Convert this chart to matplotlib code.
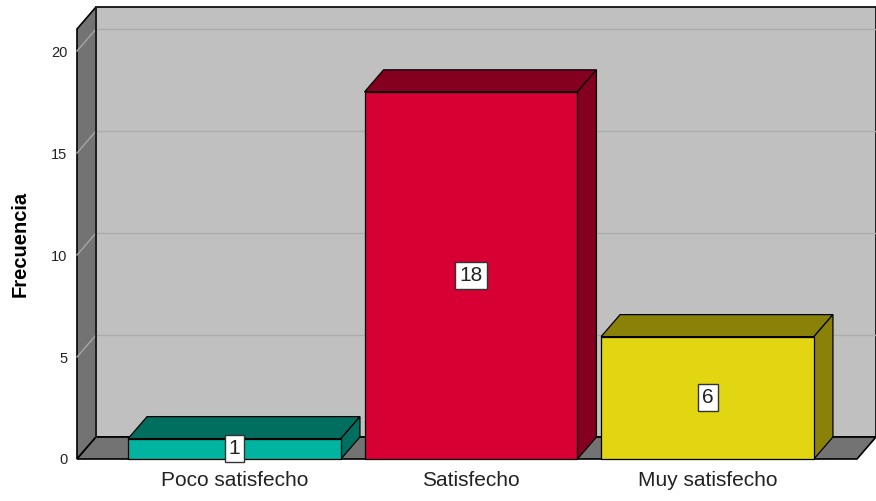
"""
Frecuencia de satisfacción: barras 3D al estilo SPSS
"""
import matplotlib
matplotlib.use("Agg")
import matplotlib.pyplot as plt
from matplotlib.patches import Polygon, Rectangle

categorias = ["Poco satisfecho", "Satisfecho", "Muy satisfecho"]
frecuencias = [1, 18, 6]
yticks = [0, 5, 10, 15, 20]

caras = ["#00b4a0", "#d60032", "#e2d512"]
sombras = ["#006f60", "#850020", "#8a8208"]

plt.rcParams["font.family"] = ["Liberation Sans", "DejaVu Sans"]

fig = plt.figure(figsize=(8.76, 5.01), dpi=100)
ax = fig.add_axes([77 / 876, 42 / 501, 780 / 876, 430 / 501])
x0, x1 = -0.666, 2.632
ytop = 21.08
ax.set_xlim(x0, x1)
ax.set_ylim(0, ytop)

# profundidad del efecto 3D, en unidades de datos
dx, dy = 0.0803, 1.078
ancho = 0.90


def poly(pts, fc, ec="black", lw=0.9, z=1):
    ax.add_patch(Polygon(pts, closed=True, fc=fc, ec=ec, lw=lw,
                         zorder=z, clip_on=False))


# pared del fondo con su rejilla
poly([(x0 + dx, dy), (x1 + dx, dy), (x1 + dx, ytop + dy), (x0 + dx, ytop + dy)],
     "#c0c0c0", lw=1.2, z=1)
for v in yticks[1:]:
    ax.plot([x0 + dx, x1 + dx], [v + dy, v + dy], color="#acacac", lw=1,
            zorder=2, clip_on=False)

# pared izquierda
poly([(x0, 0), (x0 + dx, dy), (x0 + dx, ytop + dy), (x0, ytop)],
     "#737373", lw=1.2, z=3)
for v in yticks[1:]:
    ax.plot([x0, x0 + dx], [v, v + dy], color="#a6a6a6", lw=1,
            zorder=4, clip_on=False)

# suelo
poly([(x0, 0), (x1, 0), (x1 + dx, dy), (x0 + dx, dy)], "#737373", lw=1.2, z=5)
ax.plot([x0 + dx, x0 + dx], [dy, ytop + dy], color="#202020", lw=1.4,
        zorder=6, clip_on=False)

# barras
for i, (v, fc, sc) in enumerate(zip(frecuencias, caras, sombras)):
    a, b = i - ancho / 2, i + ancho / 2
    poly([(a, v), (b, v), (b + dx, v + dy), (a + dx, v + dy)], sc, z=7)
    poly([(b, 0), (b + dx, dy), (b + dx, v + dy), (b, v)], sc, z=7)
    ax.add_patch(Rectangle((a, 0), ancho, v, fc=fc, ec="black", lw=0.9,
                           zorder=8, clip_on=False))
    ax.text(i, v / 2, str(v), ha="center", va="center", fontsize=15,
            color="#222222", zorder=9,
            bbox=dict(boxstyle="square,pad=0.2", fc="white", ec="#333333",
                      lw=1))

for s in ax.spines.values():
    s.set_visible(False)
ax.set_xticks(range(len(categorias)))
ax.set_xticklabels(categorias, fontsize=15, color="#222222")
ax.set_yticks(yticks)
ax.set_yticklabels([str(t) for t in yticks], fontsize=10.5, color="#222222")
ax.tick_params(axis="x", length=0, pad=9)
ax.tick_params(axis="y", length=0, pad=7)
ax.set_ylabel("Frecuencia", fontsize=14.5, fontweight="bold")
ax.yaxis.set_label_coords(-47 / 780, 0.5)
ax.patch.set_visible(False)

fig.savefig("out.png", dpi=100, facecolor="white")
